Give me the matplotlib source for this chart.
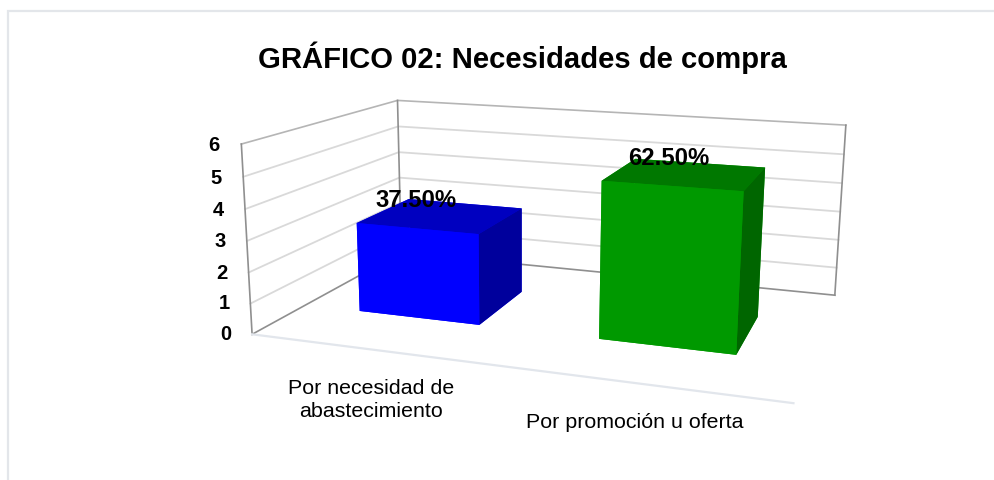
import numpy as np
import matplotlib
matplotlib.use("Agg")
import matplotlib.pyplot as plt
from matplotlib.patches import Rectangle

plt.rcParams["font.family"] = ["Liberation Sans", "DejaVu Sans"]

categories = ["Por necesidad de\nabastecimiento", "Por promoción u oferta"]
values = [3, 5]
percent_labels = ["37.50%", "62.50%"]
z_ticks = [0, 1, 2, 3, 4, 5, 6]
title = "GRÁFICO 02: Necesidades de compra"

bar_colors = [
    # bottom, top, front, back, left, right
    ["#0000ff", "#0000c0", "#0000ff", "#0000ff", "#0000ff", "#00009c"],
    ["#009900", "#007800", "#009900", "#009900", "#009900", "#006600"],
]

GRID = "#d9d9d9"
EDGE = "#8f8f8f"

fig = plt.figure(figsize=(9.94, 4.81), dpi=100)

# outer chart border only shows on the top and left
fig.add_artist(Rectangle((8 / 994, -0.1), 1, 1.1 - 12 / 481, transform=fig.transFigure,
                         fill=False, edgecolor="#e3e6ea", linewidth=1.6))

# axes are oversized on purpose, the camera was fitted with this size
ax = fig.add_axes([50.6 / 994, -0.54 + 0.6 / 481, 1, 2.08], projection="3d")
ax.set_xlim(0, 2)
ax.set_ylim(0, 1)
ax.set_zlim(0, 6)
ax.view_init(13.654, -71.558, -0.458)
ax.set_proj_type("persp", focal_length=0.221)
ax.set_box_aspect((2.788, 1.752, 1.0), zoom=0.621)
ax.set_xticks([])
ax.set_yticks([])
ax.set_zticks([])
ax.set_axis_off()
ax.patch.set_alpha(0)
ax.computed_zorder = False

# walls
for z in z_ticks[1:-1]:
    ax.plot([0, 0, 2], [0, 1, 1], [z, z, z], color=GRID, lw=1.3, zorder=1)
ax.plot([0, 0, 2], [0, 1, 1], [6, 6, 6], color="#b5b5b5", lw=1.2, zorder=1)
ax.plot([0, 0, 2], [0, 1, 1], [0, 0, 0], color=EDGE, lw=1.2, zorder=1)
for x, y in [(0, 0), (0, 1), (2, 1)]:
    ax.plot([x, x], [y, y], [0, 6], color=EDGE, lw=1.2, zorder=1)
ax.plot([0, 2], [0, 0], [0, 0], color="#e2e6ec", lw=1.6, zorder=1)

# bars
bar_x = [0.241, 1.232]
bar_width = 0.512
bar_y = 0.31
bar_depth = 0.37
for i, v in enumerate(values):
    ax.bar3d(bar_x[i], bar_y, 0, bar_width, bar_depth, v, color=bar_colors[i],
             shade=False, linewidth=0, zorder=2 + i)

# text
for z in z_ticks:
    ax.text(-0.09, 0, z - 0.06, str(z), ha="right", va="center", fontsize=14.5,
            fontweight="bold", color="black", zorder=5)

label_dz = [0.95, 0.83]
label_dx = [0, -0.012]
cat_dz = [-1.6, -1.15]
for i, v in enumerate(values):
    xc = bar_x[i] + bar_width / 2
    ax.text(xc + label_dx[i], bar_y, v + label_dz[i], percent_labels[i], ha="center", va="center",
            fontsize=17.2, fontweight="bold", color="black", zorder=5)
    ax.text(xc - 0.01, 0, cat_dz[i], categories[i], ha="center", va="center", fontsize=15.4,
            linespacing=1.25, color="black", zorder=5)

fig.text(522 / 994, 1 - 58 / 481, title, ha="center", va="center", fontsize=21.1,
         fontweight="bold", color="black")

fig.savefig("out.png", dpi=100)
